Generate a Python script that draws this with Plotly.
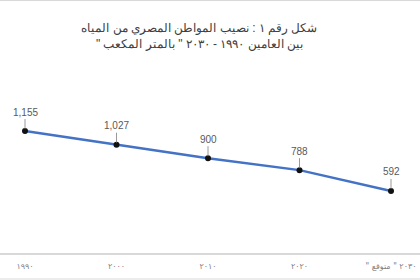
import plotly.graph_objects as go

RLM = "\u200f"
categories = ["١٩٩٠", "٢٠٠٠", "٢٠١٠", "٢٠٢٠", RLM + "٢٠٣٠ \" متوقع \"" + RLM]
values = [1155, 1027, 900, 788, 592]
value_labels = ["1,155", "1,027", "900", "788", "592"]
title_line1 = RLM + "شكل رقم ١ : نصيب المواطن المصري من المياه" + RLM
title_line2 = RLM + "بين العامين ١٩٩٠ - ٢٠٣٠ \" بالمتر المكعب \"" + RLM

xs = list(range(len(categories)))

fig = go.Figure()
fig.add_trace(go.Scatter(
    x=xs, y=values, mode="lines+markers",
    line=dict(color="#4472C4", width=2.5),
    marker=dict(color="#111111", size=6),
    hoverinfo="skip", showlegend=False,
))

for x, v, t in zip(xs, values, value_labels):
    fig.add_annotation(
        x=x, y=v, xref="x", yref="y", text=t,
        showarrow=True, arrowhead=0, arrowwidth=0.8, arrowcolor="#7f7f7f",
        ax=0, ay=-19, standoff=2,
        font=dict(family="Liberation Sans, Arial, sans-serif", size=10, color="#595959"),
    )

plot_h = 149.0
for py in (0.5, 254 - 0.5, 279):
    yy = (254 - py) / plot_h
    fig.add_shape(type="line", xref="paper", yref="paper", x0=0, x1=1,
                  y0=yy, y1=yy, line=dict(color="#d9d9d9", width=1))

fig.update_layout(
    width=420, height=280,
    margin=dict(l=0, r=0, t=105, b=26),
    paper_bgcolor="white", plot_bgcolor="white",
    title=dict(text=title_line1 + "<br>" + title_line2, x=0.475, xanchor="center",
               y=0.885, yanchor="top",
               font=dict(family="Liberation Sans, Arial, sans-serif", size=12, color="#404040")),
    xaxis=dict(range=[-25 / 91.5, 395 / 91.5], tickvals=xs, ticktext=categories,
               showgrid=False, zeroline=False, showline=True, linecolor="#d9d9d9",
               ticks="", ticklabelstandoff=4,
               tickfont=dict(family="DejaVu Sans, sans-serif", size=8, color="#7f7f7f")),
    yaxis=dict(range=[0, 1400], visible=False, showgrid=False, zeroline=False),
)

fig.write_html("out.html")
